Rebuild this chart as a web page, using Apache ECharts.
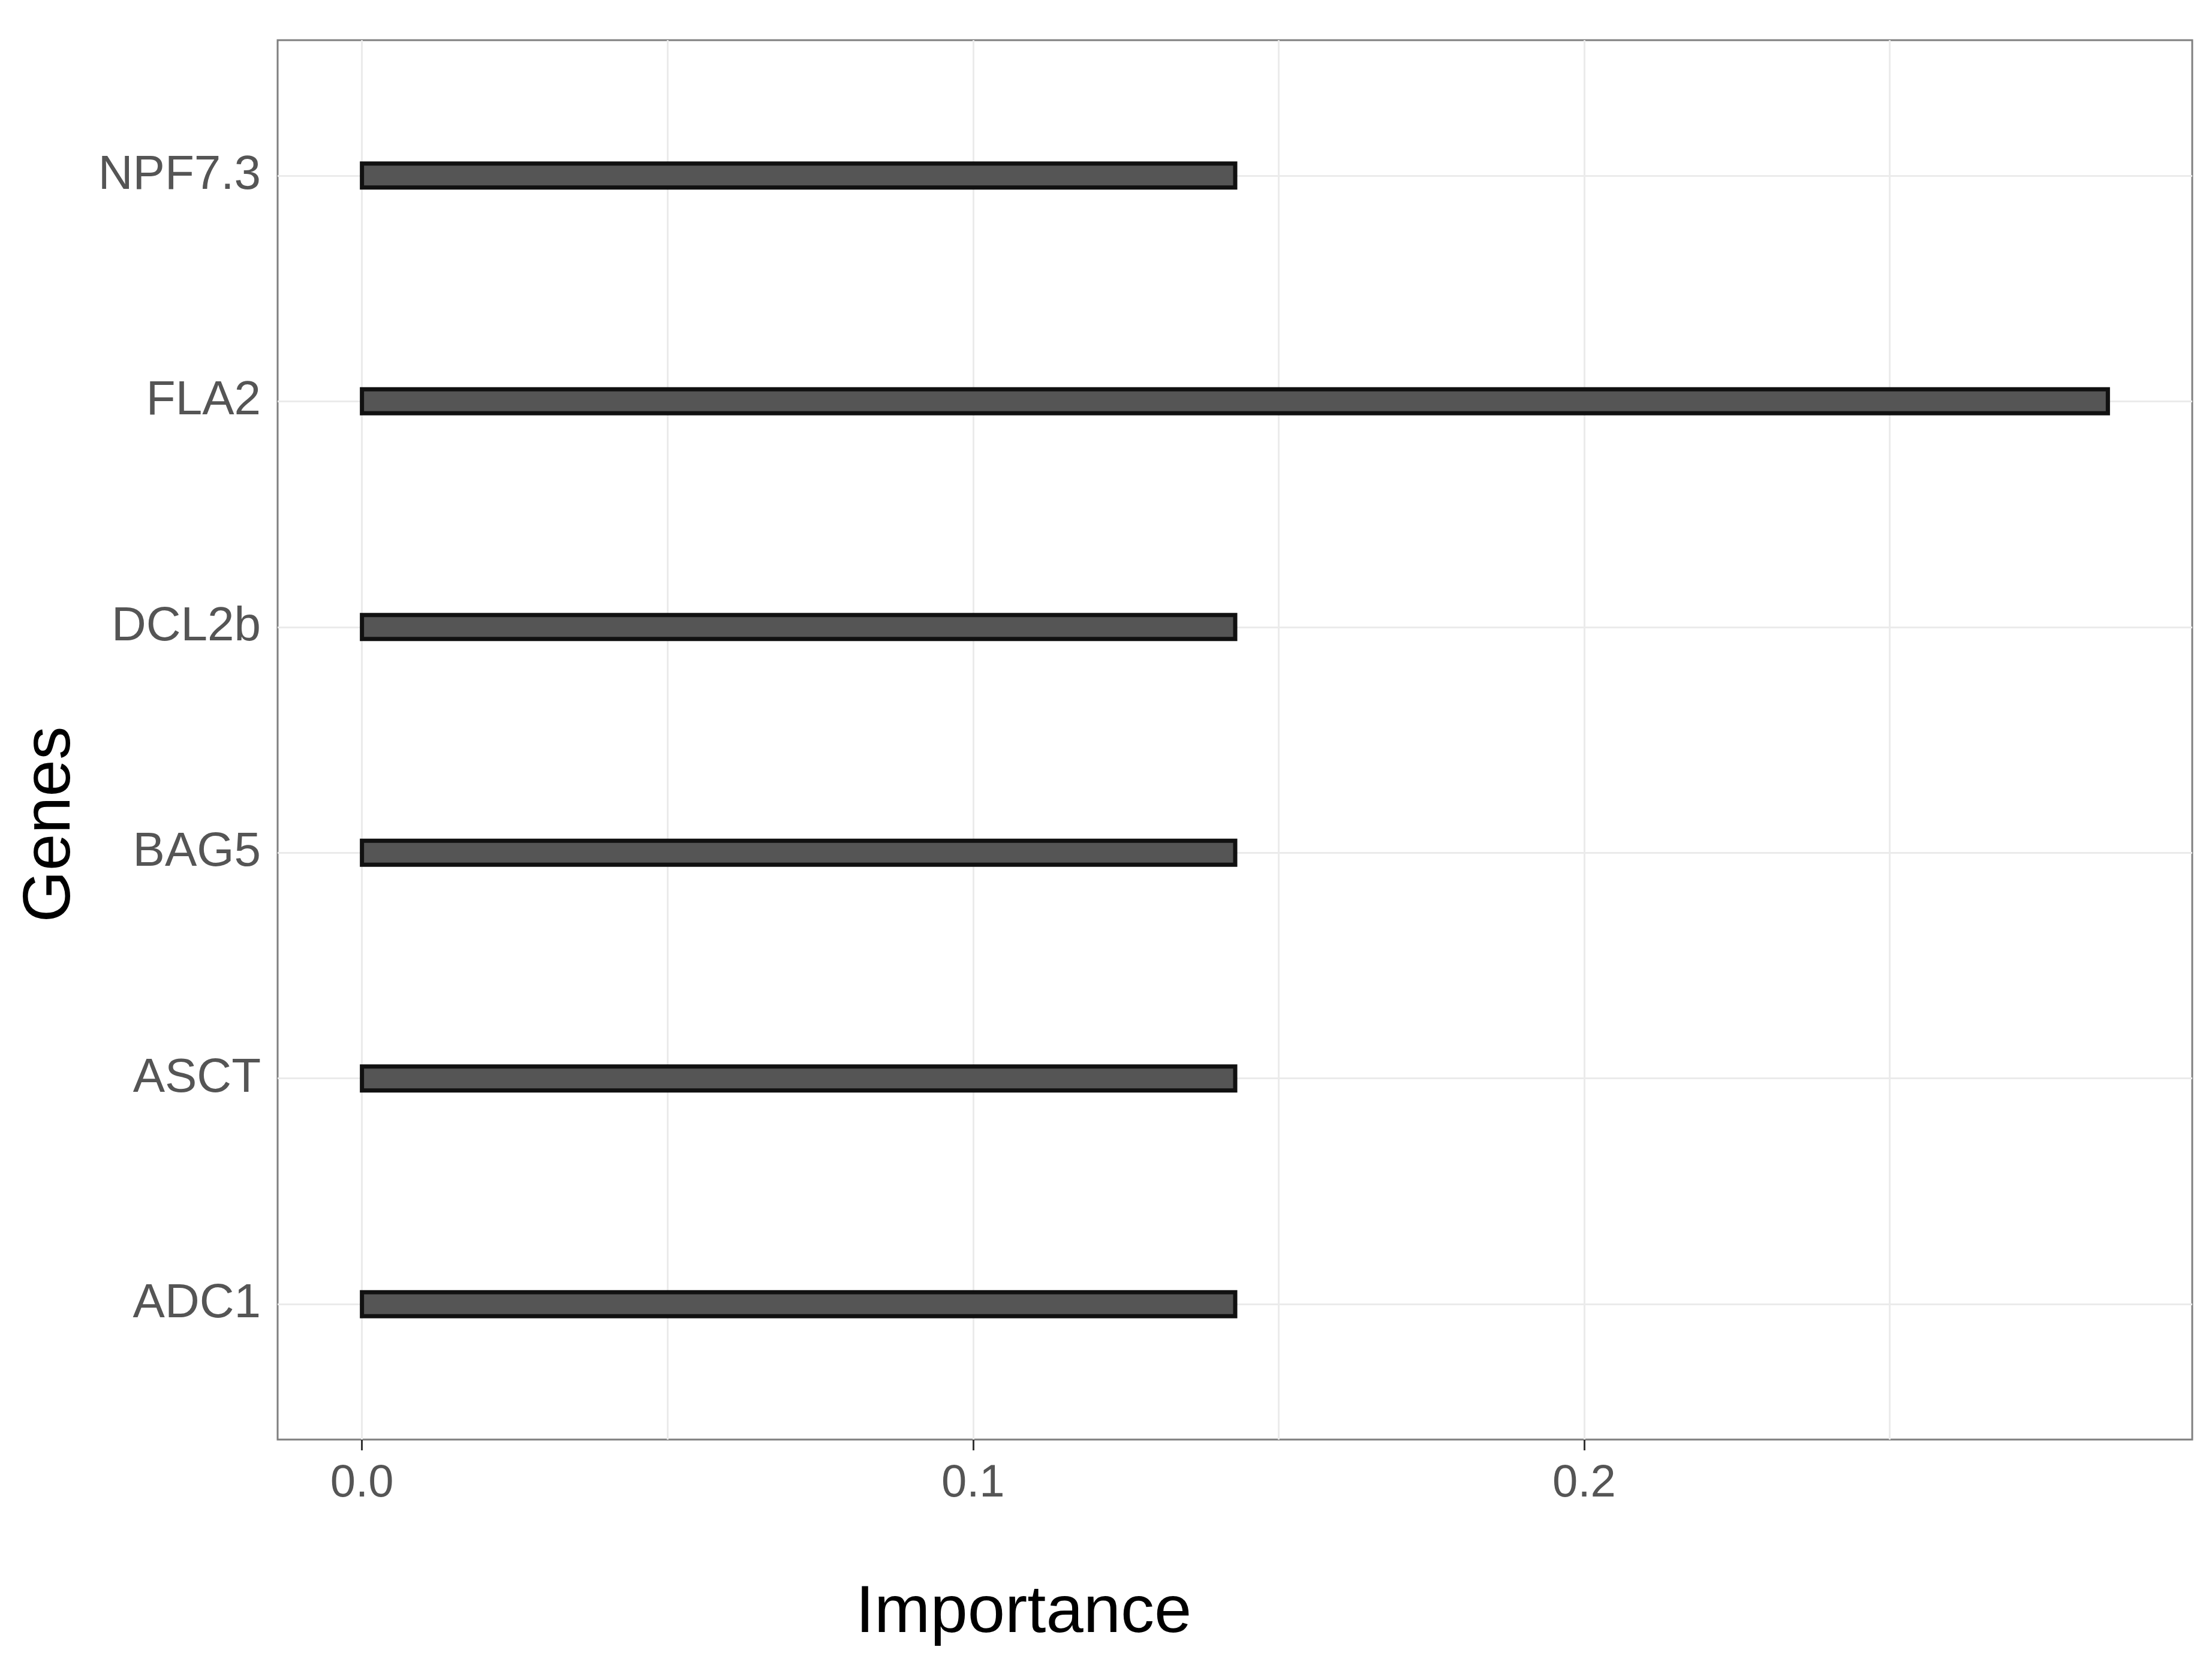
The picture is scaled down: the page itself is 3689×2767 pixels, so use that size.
<!DOCTYPE html>
<html>
<head>
<meta charset="utf-8">
<script src="https://cdn.jsdelivr.net/npm/echarts@6/dist/echarts.min.js"></script>
<style>html,body{margin:0;padding:0;background:#fff}#chart{width:3689px;height:2767px}</style>
</head>
<body>
<div id="chart"></div>
<script>
// genes from bottom to top, positions 1..6
var genes = ['ADC1', 'ASCT', 'BAG5', 'DCL2b', 'FLA2', 'NPF7.3'];
var importance = [0.1429, 0.1429, 0.1429, 0.1429, 0.2857, 0.1429];
var xTicks = [0, 0.1, 0.2];
var xGrid = [0, 0.05, 0.1, 0.15, 0.2, 0.25];

var chart = echarts.init(document.getElementById('chart'));
var positions = genes.map(function (g, i) { return i + 1; });
var barData = importance.map(function (v, i) { return [v, i + 1]; });

var gridLines = [];
xGrid.forEach(function (v) { gridLines.push({ xAxis: v }); });
positions.forEach(function (v) { gridLines.push({ yAxis: v }); });

chart.setOption({
    animation: false,
    backgroundColor: '#fff',
    grid: { left: 463, right: 33, top: 67, bottom: 366, show: true, borderColor: '#7f7f7f', borderWidth: 3, backgroundColor: '#fff' },
    graphic: [
        { type: 'text', left: 1707 - 280, top: 2635, style: { text: 'Importance', fontFamily: 'Liberation Sans', fontSize: 112, fill: '#000' } },
        { type: 'text', x: 30, y: 1375, rotation: Math.PI / 2, originX: 0, originY: 0,
          style: { text: 'Genes', fontFamily: 'Liberation Sans', fontSize: 111, fill: '#000', align: 'center', verticalAlign: 'top' } }
    ],
    xAxis: {
        type: 'value', min: -0.0138, max: 0.2995,
        axisLine: { show: false },
        axisTick: { show: true, customValues: xTicks, length: 18, lineStyle: { color: '#333', width: 3 } },
        axisLabel: { customValues: xTicks, fontFamily: 'Liberation Sans', fontSize: 76, color: '#555', margin: 36,
            formatter: function (v) { return v.toFixed(1); } },
        splitLine: { show: false }
    },
    yAxis: {
        type: 'value', min: 0.4, max: 6.6,
        axisLine: { show: false },
        axisTick: { show: true, customValues: positions, length: 18, lineStyle: { color: '#333', width: 3 } },
        axisLabel: { customValues: positions, fontFamily: 'Liberation Sans', fontSize: 80, color: '#555', margin: 28,
            formatter: function (v) { return genes[Math.round(v) - 1] || ''; } },
        splitLine: { show: false }
    },
    series: [{
        type: 'custom',
        data: barData,
        encode: { x: 0, y: 1 },
        renderItem: function (params, api) {
            var p0 = api.coord([0, api.value(1)]);
            var p1 = api.coord([api.value(0), api.value(1)]);
            var h = 40;
            return {
                type: 'rect',
                shape: { x: p0[0], y: p0[1] - h / 2, width: p1[0] - p0[0], height: h },
                style: { fill: '#555', stroke: '#111', lineWidth: 7 }
            };
        },
        markLine: {
            silent: true, symbol: 'none', label: { show: false },
            lineStyle: { color: '#ebebeb', width: 3, type: 'solid' },
            data: gridLines, z: 1
        },
        z: 3
    }]
});
</script>
</body>
</html>
